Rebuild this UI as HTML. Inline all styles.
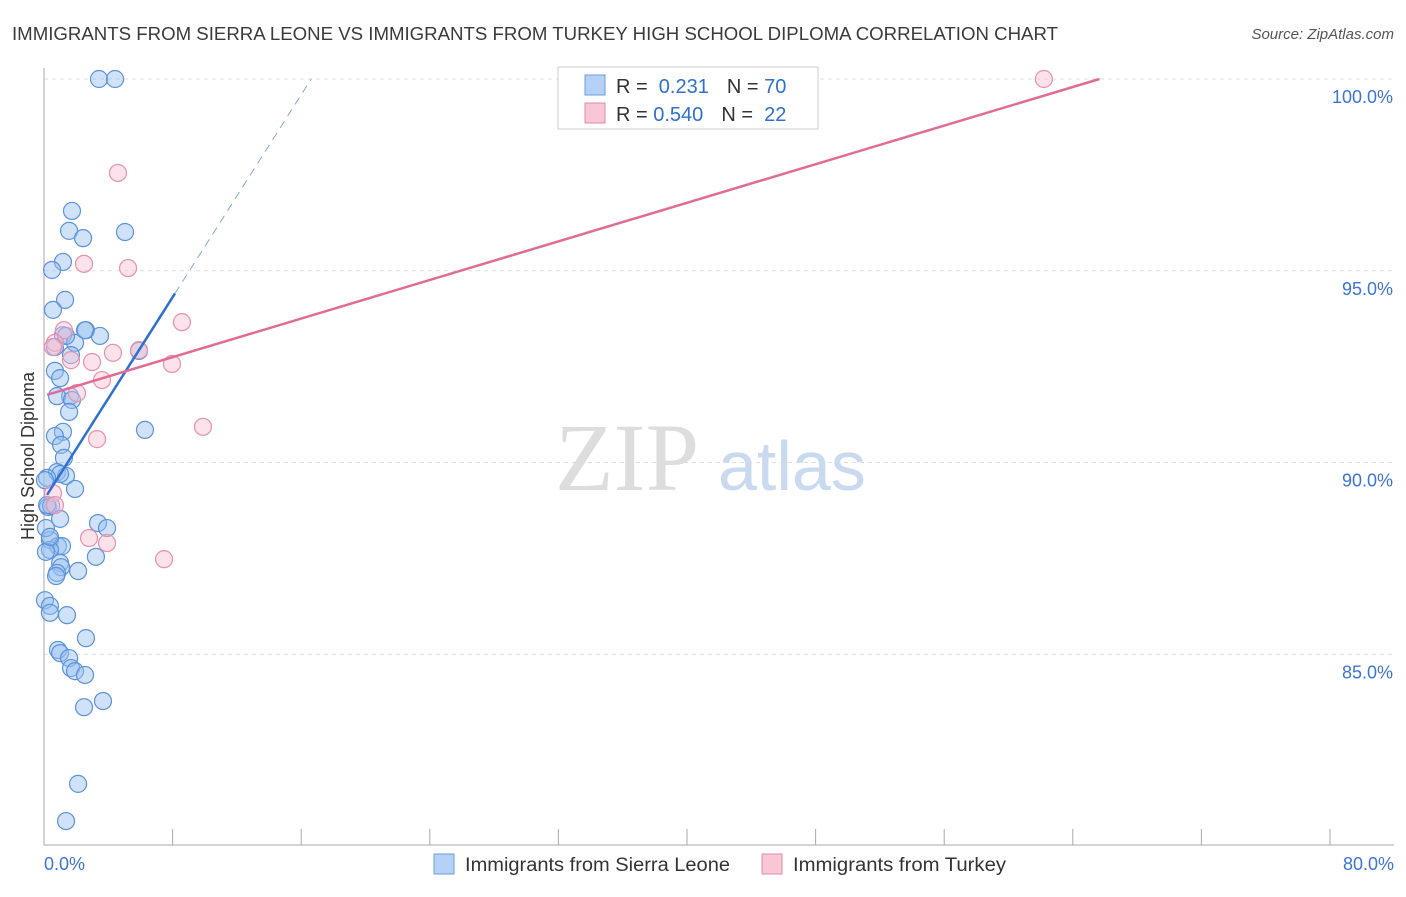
<!DOCTYPE html>
<html><head><meta charset="utf-8"><style>
body{margin:0;background:#fff;font-family:"Liberation Sans",sans-serif;}
#wrap{position:relative;width:1406px;height:892px;}
</style></head><body>
<div id="wrap">
<svg id="svg" width="1406" height="892" xmlns="http://www.w3.org/2000/svg">
<text x="12" y="40" font-size="18" fill="#3a3a3a" textLength="1046" lengthAdjust="spacingAndGlyphs">IMMIGRANTS FROM SIERRA LEONE VS IMMIGRANTS FROM TURKEY HIGH SCHOOL DIPLOMA CORRELATION CHART</text>
<text x="1394" y="39" font-size="15" fill="#555" text-anchor="end" font-style="italic">Source: ZipAtlas.com</text>
<text x="34" y="456" font-size="18" fill="#333" text-anchor="middle" transform="rotate(-90 34 456)">High School Diploma</text>
<g id="grid"></g>
<text x="555" y="490" font-size="96" fill="#ddd" font-family="Liberation Serif,serif">ZIP</text>
<text x="718" y="490" font-size="70" fill="#c9d9ef">atlas</text>
<g id="marks"></g>
<g>
<rect x="558" y="67" width="260" height="62" fill="#fff" stroke="#ccc"/>
<rect x="585" y="75" width="20" height="20" fill="#b5d1f5" stroke="#6a9de0"/>
<rect x="585" y="103" width="20" height="20" fill="#f8c7d5" stroke="#e38aa7"/>
<text x="616" y="93" font-size="20" fill="#333">R = <tspan fill="#2f6fd0">&#160;0.231</tspan><tspan dx="18">N = </tspan><tspan fill="#2f6fd0">70</tspan></text>
<text x="616" y="121" font-size="20" fill="#333">R = <tspan fill="#2f6fd0">0.540</tspan><tspan dx="18">N = </tspan><tspan fill="#2f6fd0">&#160;22</tspan></text>
</g>
<text x="44" y="870" font-size="18" fill="#3d74d4">0.0%</text>
<text x="1394" y="870" font-size="18" fill="#3d74d4" text-anchor="end">80.0%</text>
<g>
<rect x="434" y="854" width="20" height="20" fill="#b5d1f5" stroke="#6a9de0"/>
<text x="465" y="871" font-size="19" fill="#333" textLength="265" lengthAdjust="spacingAndGlyphs">Immigrants from Sierra Leone</text>
<rect x="762" y="854" width="20" height="20" fill="#f8c7d5" stroke="#e38aa7"/>
<text x="793" y="871" font-size="19" fill="#333" textLength="213" lengthAdjust="spacingAndGlyphs">Immigrants from Turkey</text>
</g>
</svg>
</div>
<script>
const blueX=[3.42,4.42,1.74,1.56,2.43,5.04,1.18,0.5,1.31,0.56,2.61,3.48,1.18,1.93,0.68,1.68,5.91,0.68,1.0,1.62,0.81,1.74,1.56,1.18,0.68,1.06,1.24,0.81,1.37,1.0,1.93,0.19,0.25,0.44,1.0,3.36,3.92,0.37,0.87,1.12,0.37,1.0,1.06,0.81,0.75,2.12,3.23,0.06,0.37,0.37,1.43,2.61,0.87,1.0,1.56,1.68,1.93,2.55,2.49,3.67,2.12,1.37,6.28,0.19,0.12,0.12,1.37,2.55,0.06,0.37];
const blueY=[100,100,96.56,96.04,95.85,96.01,95.23,95.02,94.24,93.98,93.45,93.3,93.32,93.12,93.01,92.8,92.91,92.39,92.2,91.73,91.73,91.63,91.32,90.8,90.69,90.46,90.12,89.75,89.65,89.7,89.31,89.6,88.84,88.87,88.53,88.42,88.29,87.98,87.82,87.82,87.72,87.38,87.27,87.12,87.04,87.17,87.54,86.41,86.26,86.08,86.02,85.42,85.11,85.03,84.9,84.64,84.56,84.46,83.62,83.78,81.62,80.65,90.85,88.89,88.29,87.67,93.3,93.45,89.54,88.06];
const pinkX=[62.2,4.6,2.49,5.23,8.58,1.24,0.68,0.56,1.68,2.99,4.29,5.91,7.96,3.61,2.05,9.89,3.3,0.56,0.68,2.8,3.92,7.47];
const pinkY=[100,97.55,95.18,95.07,93.66,93.45,93.12,93.01,92.67,92.62,92.86,92.93,92.57,92.15,91.81,90.93,90.61,89.2,88.89,88.03,87.9,87.48];
const yTicks=[100,95,90,85];
const yTickLabels=["100.0%","95.0%","90.0%","85.0%"];
const xTicks=[0,8,16,24,32,40,48,56,64,72,80];
const blueFit=[89.03,0.66]; // intercept, slope
const pinkFit=[91.74,0.1258];
const NS="http://www.w3.org/2000/svg";
const sx=v=>44+v/80*1286;
const sy=v=>79+(100-v)*38.35;
function mk(tag,attrs,parent){const e=document.createElementNS(NS,tag);for(const k in attrs)e.setAttribute(k,attrs[k]);parent.appendChild(e);return e;}
const grid=document.getElementById('grid'),marks=document.getElementById('marks');
yTicks.forEach((t,i)=>{
 const l=mk('line',{x1:44,x2:1394,y1:sy(t),y2:sy(t),stroke:'#ddd','stroke-dasharray':'4,4'},grid);
 
 
 const tx=mk('text',{x:1393,y:sy(t)+24,'font-size':18,fill:'#3d74d4','text-anchor':'end'},grid);
 tx.textContent=yTickLabels[i];
 
 
});
const ax=mk('line',{x1:44,x2:44,y1:68,y2:845,stroke:'#aaa'},grid);


const bx=mk('line',{x1:44,x2:1394,y1:845,y2:845,stroke:'#aaa'},grid);


xTicks.forEach(t=>{
 const l=mk('line',{x1:sx(t),x2:sx(t),y1:829,y2:845,stroke:'#aaa'},grid);
 
 
});
blueX.forEach((x,i)=>{
 const c=mk('circle',{cx:sx(x),cy:sy(blueY[i]),r:8.5,fill:'rgba(150,190,240,0.45)',stroke:'#5b92dc','stroke-width':1.2},marks);
 
 
});
pinkX.forEach((x,i)=>{
 const c=mk('circle',{cx:sx(x),cy:sy(pinkY[i]),r:8.5,fill:'rgba(248,190,208,0.45)',stroke:'#e890ad','stroke-width':1.2},marks);
 
 
});
const bf=x=>blueFit[0]+blueFit[1]*x, pf=x=>pinkFit[0]+pinkFit[1]*x;
const bEndX=(100-blueFit[0])/blueFit[1];
const bl1=mk('line',{x1:sx(0.19),y1:sy(bf(0.19)),x2:sx(8.15),y2:sy(bf(8.15)),stroke:'#2f6fd0','stroke-width':2.5},marks);


const bl2=mk('line',{x1:sx(8.15),y1:sy(bf(8.15)),x2:sx(bEndX),y2:sy(bf(bEndX)),stroke:'#7fa6e0','stroke-width':1,'stroke-dasharray':'8,6'},marks);


const pEndX=(100-pinkFit[0])/pinkFit[1];
const pl=mk('line',{x1:sx(0.19),y1:sy(pf(0.19)),x2:sx(pEndX),y2:sy(pf(pEndX)),stroke:'#e06c95','stroke-width':2.5},marks);


</script>
</body></html>
